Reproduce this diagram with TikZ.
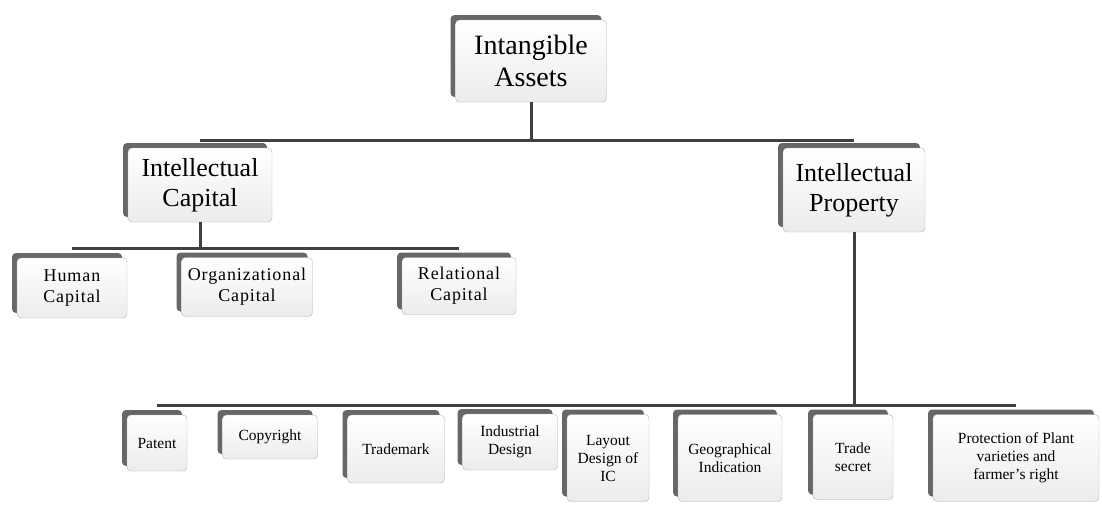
\documentclass[tikz,border=0pt]{standalone}
\usepackage{fontspec}
\setmainfont{Liberation Serif}
\usetikzlibrary{shadows}

\begin{document}
\begin{tikzpicture}[
		x=1pt, y=-1pt,
		box/.style={draw=gray!60, rounded corners=4pt, top color=white, bottom color=gray!15, align=center, inner sep=0pt,
			drop shadow={shadow xshift=-5pt, shadow yshift=5pt, fill=black!70, opacity=0.85}},
		topbox/.style={box, font=\fontsize{28}{32}\selectfont},
		midbox/.style={box, font=\fontsize{26}{30}\selectfont},
		subbox/.style={box, font=\fontsize{18}{21}\selectfont\addfontfeatures{LetterSpace=5}},
		leafbox/.style={box, font=\fontsize{15.5}{18}\selectfont},
		branch/.style={draw=black!75, line width=3pt}
	]
	\useasboundingbox (0,0) rectangle (1102,504);

	\node[topbox, minimum width=151pt, minimum height=82pt] (assets) at (531,61) {Intangible\\Assets};

	\node[midbox, minimum width=144pt, minimum height=74pt] (ic) at (200,185) {Intellectual\\Capital};
	\node[midbox, minimum width=142pt, minimum height=84pt] (ip) at (854,190) {Intellectual\\Property};

	\node[subbox, minimum width=110pt, minimum height=60pt] (human) at (72,288) {Human\\Capital};
	\node[subbox, minimum width=131pt, minimum height=59pt] (organizational) at (247,287) {Organizational\\Capital};
	\node[subbox, minimum width=114pt, minimum height=57pt] (relational) at (459,286) {Relational\\Capital};

	\node[leafbox, minimum width=60pt, minimum height=56pt] (patent) at (157,443) {Patent};
	\node[leafbox, minimum width=95pt, minimum height=44pt] (copyright) at (270,437) {Copyright};
	\node[leafbox, minimum width=97pt, minimum height=68pt] (trademark) at (396,449) {Trademark};
	\node[leafbox, minimum width=95pt, minimum height=56pt] (industrial) at (510,442) {Industrial\\Design};
	\node[leafbox, minimum width=82pt, minimum height=87pt] (layout) at (608,458) {Layout\\Design of\\IC};
	\node[leafbox, minimum width=104pt, minimum height=87pt] (geographical) at (730,458) {Geographical\\Indication};
	\node[leafbox, minimum width=80pt, minimum height=85pt] (tradesecret) at (853,457) {Trade\\secret};
	\node[leafbox, minimum width=166pt, minimum height=87pt] (plant) at (1016,458) {Protection of Plant\\varieties and\\farmer's right};

	\coordinate (toplevel) at (0,140);
	\coordinate (iclevel) at (0,248);
	\coordinate (iplevel) at (0,405);

	% top level
	\draw[branch] (assets.south) -- (assets.south |- toplevel);
	\draw[branch] (ic.north |- toplevel) -- (ip.north |- toplevel);

	% intellectual capital
	\draw[branch] (ic.south) -- (ic.south |- iclevel);
	\draw[branch] (human.north |- iclevel) -- (relational.north |- iclevel);

	% intellectual property
	\draw[branch] (ip.south) -- (ip.south |- iplevel);
	\draw[branch] (patent.north |- iplevel) -- (plant.north |- iplevel);

\end{tikzpicture}
\end{document}
